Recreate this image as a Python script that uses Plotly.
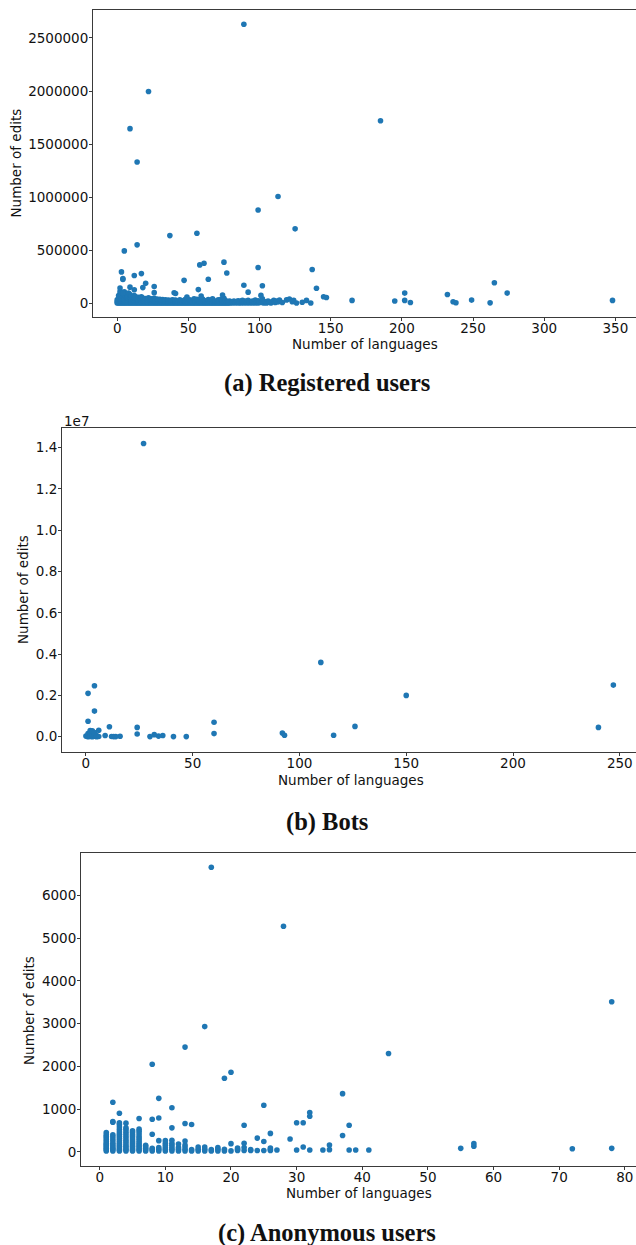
import plotly.graph_objects as go

# ---------------- (a) Registered users ----------------
reg_band_langs = list(range(0, 80)) + [80, 81, 82, 83, 84, 85, 86, 87, 88, 89, 90, 91, 92, 93, 94, 95, 96, 97, 98, 99,
                                       100, 101, 102, 103, 104, 105, 106, 107, 108, 109, 110, 111, 112, 113, 114,
                                       116, 119, 121, 123, 124, 126, 130, 133, 136]
reg_band_edits = [
    [0, 12000, 30000],                          # 0
    [0, 8000, 25000, 48000, 70000],             # 1
    [0, 15000, 35000, 60000, 85000, 110000],    # 2
    [0, 10000, 28000, 50000, 75000, 100000],    # 3
    [0, 20000, 42000, 65000, 90000],            # 4
    [0, 12000, 32000, 55000, 80000, 105000],    # 5
    [0, 18000, 40000, 62000, 88000],            # 6
    [0, 10000, 30000, 52000, 75000],            # 7
    [0, 22000, 45000, 68000, 95000],            # 8
    [0, 14000, 36000, 58000, 80000],            # 9
    [0, 20000, 42000, 65000],                   # 10
    [0, 12000, 34000, 55000],                   # 11
    [0, 25000, 48000, 70000],                   # 12
    [0, 15000, 38000, 60000],                   # 13
    [0, 20000, 44000],                          # 14
    [0, 10000, 32000, 55000],                   # 15
    [0, 22000, 45000],                          # 16
    [0, 14000, 36000, 58000],                   # 17
    [0, 25000, 48000],                          # 18
    [0, 12000, 35000],                          # 19
    [0, 20000, 42000],                          # 20
    [0, 15000, 38000],                          # 21
    [0, 25000, 50000],                          # 22
    [0, 12000, 32000],                          # 23
    [0, 20000, 40000],                          # 24
    [0, 14000, 35000],                          # 25
    [0, 22000, 45000],                          # 26
    [0, 10000, 30000],                          # 27
    [0, 18000, 38000],                          # 28
    [0, 12000, 28000],                          # 29
    [0, 20000, 35000],                          # 30
    [0, 8000, 25000],                           # 31
    [0, 15000, 32000],                          # 32
    [0, 22000],                                 # 33
    [0, 10000, 30000],                          # 34
    [0, 18000],                                 # 35
    [0, 12000, 28000],                          # 36
    [0, 20000],                                 # 37
    [0, 8000, 25000],                           # 38
    [0, 15000, 30000],                          # 39
    [0, 22000],                                 # 40
    [0, 10000, 28000],                          # 41
    [0, 18000],                                 # 42
    [0, 8000],                                  # 43
    [0, 15000, 30000],                          # 44
    [0, 20000],                                 # 45
    [0, 10000],                                 # 46
    [0, 25000],                                 # 47
    [0, 12000, 35000],                          # 48
    [0, 18000],                                 # 49
    [0, 8000],                                  # 50
    [0, 15000, 30000],                          # 51
    [0, 20000],                                 # 52
    [0, 10000],                                 # 53
    [0, 22000, 40000],                          # 54
    [0, 12000],                                 # 55
    [0, 18000, 35000],                          # 56
    [0, 25000],                                 # 57
    [0, 10000, 30000],                          # 58
    [0, 15000],                                 # 59
    [0, 20000, 38000],                          # 60
    [0, 12000],                                 # 61
    [0, 22000],                                 # 62
    [0, 8000],                                  # 63
    [0, 18000, 32000],                          # 64
    [0, 10000],                                 # 65
    [0, 15000],                                 # 66
    [0, 25000, 40000],                          # 67
    [0, 12000],                                 # 68
    [0, 20000],                                 # 69
    [0, 8000],                                  # 70
    [0, 15000, 30000],                          # 71
    [0, 22000],                                 # 72
    [0, 10000, 35000],                          # 73
    [0, 18000],                                 # 74
    [0, 12000, 45000],                          # 75
    [0, 25000],                                 # 76
    [0, 8000],                                  # 77
    [0, 15000],                                 # 78
    [0, 20000],                                 # 79
    [5000],                                     # 80
    [0, 12000],                                 # 81
    [18000],                                    # 82
    [0, 8000],                                  # 83
    [15000],                                    # 84
    [0, 22000],                                 # 85
    [5000],                                     # 86
    [0, 18000],                                 # 87
    [10000, 25000],                             # 88
    [0, 15000],                                 # 89
    [20000],                                    # 90
    [0, 10000],                                 # 91
    [25000],                                    # 92
    [0, 15000],                                 # 93
    [8000],                                     # 94
    [0, 20000],                                 # 95
    [12000],                                    # 96
    [0, 28000],                                 # 97
    [10000],                                    # 98
    [0, 22000],                                 # 99
    [15000],                                    # 100
    [5000],                                     # 101
    [20000, 40000],                             # 102
    [0],                                        # 103
    [12000],                                    # 104
    [0],                                        # 105
    [18000],                                    # 106
    [8000],                                     # 107
    [0],                                        # 108
    [15000],                                    # 109
    [25000],                                    # 110
    [5000],                                     # 111
    [20000],                                    # 112
    [10000],                                    # 113
    [28000],                                    # 114
    [5000],                                     # 116
    [30000],                                    # 119
    [38000],                                    # 121
    [12000],                                    # 123
    [25000],                                    # 124
    [0],                                        # 126
    [8000],                                     # 130
    [25000],                                    # 133
    [0],                                        # 136
]
reg_out_langs = [89, 22, 9, 14, 185, 113, 99, 125, 56, 37, 14, 5, 75, 61, 58, 99, 137, 3, 17, 77,
                 12, 4, 4, 64, 47, 265, 20, 89, 102, 26, 9, 18, 2, 140, 57, 12, 92, 26, 4, 40,
                 41, 202, 274, 232, 101, 74, 59, 145, 147, 49, 165, 195, 202, 206, 236, 238, 249, 262, 348]
reg_out_edits = [2630000, 1995000, 1645000, 1330000, 1720000, 1005000, 878000, 700000, 659000, 636000,
                 549000, 492000, 386000, 375000, 360000, 335000, 316000, 294000, 278000, 283000,
                 260000, 232000, 222000, 225000, 214000, 191000, 186000, 168000, 163000, 156000,
                 150000, 146000, 141000, 139000, 127000, 125000, 103000, 98000, 94000, 97000,
                 90000, 94000, 94000, 81000, 72000, 75000, 66000, 59000, 53000, 56000,
                 25000, 20000, 25000, 5000, 12000, 3000, 28000, 2000, 25000]

# ---------------- (b) Bots ----------------
bot_langs = [27, 110, 150, 247, 240, 126, 116, 92, 93, 60, 60, 47, 41, 36, 34, 32, 30, 24, 24, 16,
             14, 13, 12, 11, 9, 6, 4, 4, 1, 1, 0, 1, 1, 1, 2, 2, 2, 2, 3, 3,
             3, 3, 4, 4, 4, 5, 5, 6]
bot_edits = [14200000, 3600000, 2000000, 2500000, 450000, 500000, 70000, 180000, 70000, 700000,
             150000, 5000, 5000, 60000, 30000, 100000, 5000, 450000, 130000, 20000,
             5000, 5000, 10000, 480000, 60000, 310000, 2470000, 1240000, 2100000, 750000,
             30000, 0, 60000, 150000, 10000, 80000, 200000, 300000, 0, 40000,
             120000, 280000, 20000, 100000, 200000, 0, 50000, 10000]

# ---------------- (c) Anonymous users ----------------
anon_langs = [1, 2, 3, 4, 5, 6, 7, 8, 9, 10, 11, 12, 13, 14, 15, 16, 17, 18, 19, 20,
              21, 22, 23, 24, 25, 26, 27, 28, 29, 30, 31, 32, 34, 35, 37, 38, 39, 41, 44, 55,
              57, 72, 78]
anon_edits = [
    [20, 50, 80, 110, 140, 170, 200, 240, 280, 320, 360, 400, 450],                        # 1
    [20, 50, 80, 120, 160, 200, 250, 300, 350, 400, 690, 710, 1160],                       # 2
    [20, 50, 90, 130, 170, 210, 260, 310, 360, 410, 460, 520, 580, 640, 680, 900],         # 3
    [20, 50, 90, 130, 170, 220, 270, 320, 370, 420, 470, 520, 560, 670],                   # 4
    [20, 50, 90, 130, 170, 210, 250, 300, 350, 400, 450, 490],                             # 5
    [20, 50, 90, 130, 170, 210, 260, 310, 360, 420, 480, 530, 780],                        # 6
    [20, 50, 80, 120, 150],                                                                # 7
    [20, 50, 80, 410, 760, 2050],                                                          # 8
    [20, 60, 100, 260, 790, 1250],                                                         # 9
    [20, 60, 100, 150, 200, 260],                                                          # 10
    [20, 60, 100, 150, 200, 270, 560, 1030],                                               # 11
    [20, 60, 100, 180],                                                                    # 12
    [20, 60, 110, 160, 250, 660, 2450],                                                    # 13
    [20, 50, 640],                                                                         # 14
    [20, 60, 110],                                                                         # 15
    [20, 60, 110, 2930],                                                                   # 16
    [20, 50, 6660],                                                                        # 17
    [20, 60, 100],                                                                         # 18
    [20, 60, 1720],                                                                        # 19
    [20, 190, 1860],                                                                       # 20
    [30, 60, 90],                                                                          # 21
    [30, 100, 200, 620],                                                                   # 22
    [30, 50],                                                                              # 23
    [30, 320],                                                                             # 24
    [30, 240, 1090],                                                                       # 25
    [30, 60, 90, 430],                                                                     # 26
    [40],                                                                                  # 27
    [5280],                                                                                # 28
    [300],                                                                                 # 29
    [40, 680],                                                                             # 30
    [110, 680],                                                                            # 31
    [40, 830, 920],                                                                        # 32
    [40],                                                                                  # 34
    [50, 160],                                                                             # 35
    [380, 1360],                                                                           # 37
    [40, 620],                                                                             # 38
    [40],                                                                                  # 39
    [40],                                                                                  # 41
    [2300],                                                                                # 44
    [80],                                                                                  # 55
    [130, 190],                                                                            # 57
    [70],                                                                                  # 72
    [80, 3510],                                                                            # 78
]

# tick labels
reg_xticks = [0, 50, 100, 150, 200, 250, 300, 350]
reg_yticks = [0, 500000, 1000000, 1500000, 2000000, 2500000]
bot_xticks = [0, 50, 100, 150, 200, 250]
bot_yticks = [0, 2000000, 4000000, 6000000, 8000000, 10000000, 12000000, 14000000]
bot_yticktext = ["0.0", "0.2", "0.4", "0.6", "0.8", "1.0", "1.2", "1.4"]
anon_xticks = [0, 10, 20, 30, 40, 50, 60, 70, 80]
anon_yticks = [0, 1000, 2000, 3000, 4000, 5000, 6000]

captions = ["(a) Registered users", "(b) Bots", "(c) Anonymous users"]
x_title = "Number of languages"
y_title = "Number of edits"


def expand(langs, rows):
    xs, ys = [], []
    for x, row in zip(langs, rows):
        for y in row:
            xs.append(x)
            ys.append(y)
    return xs, ys


W, H = 636, 1245
BLUE = "#1f77b4"
LINE = "#3a3a3a"
FONT = "DejaVu Sans"
FS = 13.5

ax_x, ax_y = expand(reg_band_langs, reg_band_edits)
ax_x += reg_out_langs
ax_y += reg_out_edits
cx, cy = expand(anon_langs, anon_edits)

fig = go.Figure()
mk = dict(color=BLUE, size=5.6, line=dict(width=0))
fig.add_trace(go.Scatter(x=ax_x, y=ax_y, mode="markers", marker=mk, xaxis="x", yaxis="y", showlegend=False))
fig.add_trace(go.Scatter(x=bot_langs, y=bot_edits, mode="markers", marker=mk, xaxis="x2", yaxis="y2", showlegend=False))
fig.add_trace(go.Scatter(x=cx, y=cy, mode="markers", marker=mk, xaxis="x3", yaxis="y3", showlegend=False))


def px(x):
    return x / W


def py(y):
    return 1 - y / H


common = dict(showgrid=False, zeroline=False, showline=True, linecolor=LINE, linewidth=1,
              ticks="outside", ticklen=3, tickwidth=1, tickcolor=LINE,
              tickfont=dict(family=FONT, size=FS, color="#111"))

panels = [
    dict(l=93, t=10, b=317, xr=[-17.0, 364.5], yr=[-131500, 2764000]),
    dict(l=62, t=428, b=752, xr=[-11.2, 257.6], yr=[-741000, 14954000]),
    dict(l=81, t=853, b=1166, xr=[-2.85, 81.7], yr=[-333, 6993]),
]
xt = [dict(tickvals=reg_xticks), dict(tickvals=bot_xticks), dict(tickvals=anon_xticks)]
yt = [dict(tickvals=reg_yticks, ticktext=[str(v) for v in reg_yticks]),
      dict(tickvals=bot_yticks, ticktext=bot_yticktext),
      dict(tickvals=anon_yticks, ticktext=[str(v) for v in anon_yticks])]

layout = {}
for i, p in enumerate(panels):
    sfx = "" if i == 0 else str(i + 1)
    layout["xaxis" + sfx] = dict(common, domain=[px(p["l"]), 1], range=p["xr"], mirror=True,
                                 anchor="y" + sfx, ticklabelstandoff=-4, **xt[i])
    layout["yaxis" + sfx] = dict(common, domain=[py(p["b"]), py(p["t"])], range=p["yr"],
                                 anchor="x" + sfx, ticklabelstandoff=-2, **yt[i])

fig.update_layout(**layout)

ann = []
xtitle_pos = [(365, 344), (351, 780), (359, 1193)]
ytitle_pos = [(16, 163.5), (23, 590), (29, 1010)]
cap_pos = [(327, 383), (327, 822), (327, 1233)]
for i in range(3):
    ann.append(dict(text=x_title, x=px(xtitle_pos[i][0]), y=py(xtitle_pos[i][1]), xref="paper", yref="paper",
                    xanchor="center", yanchor="middle", showarrow=False,
                    font=dict(family=FONT, size=FS, color="#111")))
    ann.append(dict(text=y_title, x=px(ytitle_pos[i][0]), y=py(ytitle_pos[i][1]), xref="paper", yref="paper",
                    xanchor="center", yanchor="middle", showarrow=False, textangle=-90,
                    font=dict(family=FONT, size=FS, color="#111")))
    ann.append(dict(text="<b>" + captions[i] + "</b>", x=px(cap_pos[i][0]), y=py(cap_pos[i][1]),
                    xref="paper", yref="paper", xanchor="center", yanchor="middle", showarrow=False,
                    font=dict(family="Liberation Serif", size=24.5, color="#111")))
ann.append(dict(text="1e7", x=px(62), y=py(421), xref="paper", yref="paper", xanchor="left",
                yanchor="middle", showarrow=False, font=dict(family=FONT, size=FS, color="#111")))

fig.update_layout(width=W, height=H, margin=dict(l=0, r=0, t=0, b=0),
                  paper_bgcolor="white", plot_bgcolor="white", annotations=ann)

fig.write_html("out.html", config={"displayModeBar": False},
               post_script="document.body.style.margin='0px';document.body.style.overflow='hidden';")
